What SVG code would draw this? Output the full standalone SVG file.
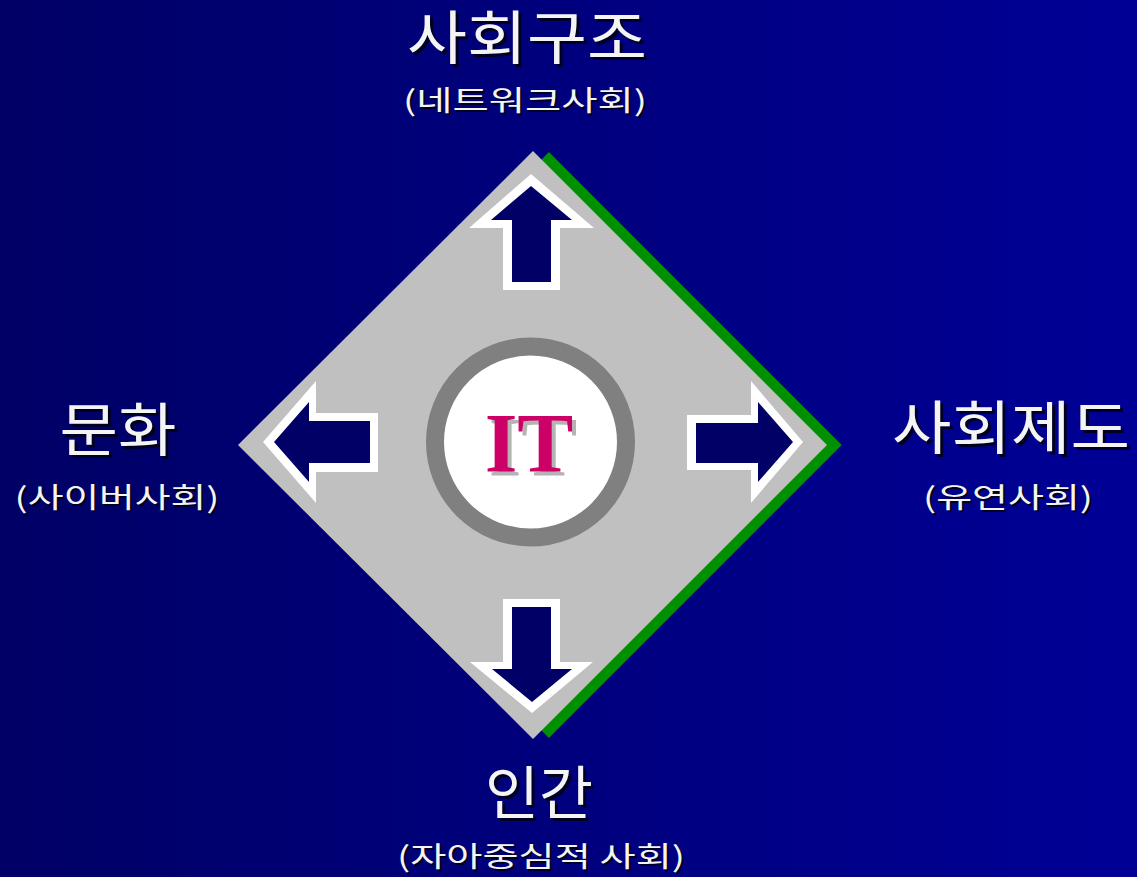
<svg xmlns="http://www.w3.org/2000/svg" width="1137" height="877" viewBox="0 0 1137 877">
<defs>
<linearGradient id="bg" x1="0" y1="0" x2="1" y2="0">
<stop offset="0" stop-color="#000066"/>
<stop offset="1" stop-color="#000096"/>
</linearGradient>
</defs>
<style>
.t{font-family:"Noto Sans CJK KR","Liberation Sans",sans-serif;text-anchor:middle;fill:#F4F4F4}
.ts{font-family:"Noto Sans CJK KR","Liberation Sans",sans-serif;text-anchor:middle;fill:#000022}
.big{font-size:58px}
.sub{font-size:28px}
.aw{fill:#FFFFFF}
.an{fill:#000066}
</style>
<rect x="0" y="0" width="1137" height="877" fill="url(#bg)"/>
<g id="diamond">
<polyline points="545,156 834,445 545,734" fill="none" stroke="#009000" stroke-width="11" stroke-linejoin="miter"/>
<polygon points="533,151 827,445 533,739 238,445" fill="#C0C0C0"/>
</g>
<g id="connectors">
<g id="arrow-up">
<polygon class="aw" points="531,174 594,228 560,228 560,290 503,290 503,228 469,228"/>
<polygon class="an" points="531,186 572,220 551,220 551,282 512,282 512,220 491,220"/>
</g>
<g id="arrow-down">
<polygon class="aw" points="532,713 593,662 560,662 560,599 503,599 503,662 470,662"/>
<polygon class="an" points="532,702 572,669 551,669 551,607 512,607 512,669 492,669"/>
</g>
<g id="arrow-left">
<polygon class="aw" points="263,442 316,381 316,413 378,413 378,472 316,472 316,503"/>
<polygon class="an" points="274,442 309,402 309,421 370,421 370,463 309,463 309,482"/>
</g>
<g id="arrow-right">
<polygon class="aw" points="803,442 751,381 751,415 687,415 687,470 751,470 751,503"/>
<polygon class="an" points="793,442 758,402 758,423 696,423 696,463 758,463 758,482"/>
</g>
</g>
<g id="center-it">
<circle cx="530.5" cy="442" r="95.5" fill="#FFFFFF" stroke="#808080" stroke-width="18"/>
<text x="533" y="476" font-family="'Liberation Serif',serif" font-weight="bold" font-size="84" text-anchor="middle" fill="#B4B4B4">IT</text>
<text x="529" y="472" font-family="'Liberation Serif',serif" font-weight="bold" font-size="84" text-anchor="middle" fill="#CC0066">IT</text>
</g>
<g id="node-top">
<text class="ts big" x="530" y="62" textLength="240" lengthAdjust="spacingAndGlyphs">사회구조</text>
<text class="t big" x="527" y="59" textLength="240" lengthAdjust="spacingAndGlyphs">사회구조</text>
<text class="ts sub" x="527" y="113" textLength="244" lengthAdjust="spacingAndGlyphs">(네트워크사회)</text>
<text class="t sub" x="525" y="111" textLength="244" lengthAdjust="spacingAndGlyphs">(네트워크사회)</text>
</g>
<g id="node-left">
<text class="ts big" x="121" y="454" textLength="117" lengthAdjust="spacingAndGlyphs">문화</text>
<text class="t big" x="118" y="451" textLength="117" lengthAdjust="spacingAndGlyphs">문화</text>
<text class="ts sub" x="119" y="510" textLength="205" lengthAdjust="spacingAndGlyphs">(사이버사회)</text>
<text class="t sub" x="117" y="508" textLength="205" lengthAdjust="spacingAndGlyphs">(사이버사회)</text>
</g>
<g id="node-right">
<text class="ts big" x="1014" y="452" textLength="238" lengthAdjust="spacingAndGlyphs">사회제도</text>
<text class="t big" x="1011" y="449" textLength="238" lengthAdjust="spacingAndGlyphs">사회제도</text>
<text class="ts sub" x="1010" y="510" textLength="170" lengthAdjust="spacingAndGlyphs">(유연사회)</text>
<text class="t sub" x="1008" y="508" textLength="170" lengthAdjust="spacingAndGlyphs">(유연사회)</text>
</g>
<g id="node-bottom">
<text class="ts big" x="542" y="817" textLength="108" lengthAdjust="spacingAndGlyphs">인간</text>
<text class="t big" x="539" y="814" textLength="108" lengthAdjust="spacingAndGlyphs">인간</text>
<text class="ts sub" x="543" y="869" textLength="288" lengthAdjust="spacingAndGlyphs">(자아중심적 사회)</text>
<text class="t sub" x="541" y="867" textLength="288" lengthAdjust="spacingAndGlyphs">(자아중심적 사회)</text>
</g>
</svg>
